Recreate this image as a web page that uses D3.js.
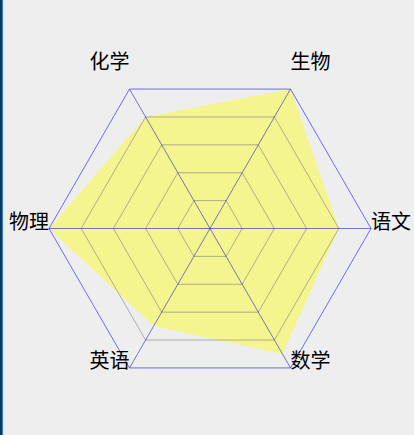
<!DOCTYPE html>
<html>
<head>
<meta charset="utf-8">
<script src="https://cdn.jsdelivr.net/npm/d3@7"></script>
<style>
  html, body { margin: 0; padding: 0; background: #eeeeee; }
  body { width: 414px; height: 435px; overflow: hidden; position: relative; }
  #edge { position: absolute; left: 0; top: 0; width: 2px; height: 435px; background: #12365a; border-right: 1px solid #2a7fd0; }
  svg { position: absolute; left: 0; top: 0; }
  text { font-family: "Noto Sans CJK SC", sans-serif; font-size: 20px; fill: #000; }
</style>
</head>
<body>
<div id="edge"></div>
<script>
// data
const subjects = ["语文", "数学", "英语", "物理", "化学", "生物"];
const scores = [80, 90, 70, 100, 80, 100];
const maxScore = 100;
const levelValues = [20, 40, 60, 80, 100];

const W = 414, H = 435;
const cx = 210, cy = 228.5, R = 161;

const svg = d3.select("body").append("svg").attr("width", W).attr("height", H);
const g = svg.append("g").attr("transform", `translate(${cx},${cy})`);

const rScale = d3.scaleLinear().domain([0, maxScore]).range([0, R]);
const angle = d3.scaleLinear().domain([0, subjects.length]).range([0, 2 * Math.PI]);
const pt = (i, v) => [rScale(v) * Math.cos(angle(i)), rScale(v) * Math.sin(angle(i))];

const line = d3.line();

// data area
g.append("path")
  .attr("d", line(scores.map((v, i) => pt(i, v))) + "Z")
  .attr("fill", "rgb(255,255,0)")
  .attr("fill-opacity", 0.4)
  .attr("stroke", "none");

// grid
g.selectAll("path.grid").data(levelValues).enter().append("path")
  .attr("class", "grid")
  .attr("d", lv => line(subjects.map((s, i) => pt(i, lv))) + "Z")
  .attr("fill", "none")
  .attr("stroke", lv => lv === maxScore ? "#0000ff" : "#6a6a80")
  .attr("stroke-opacity", lv => lv === maxScore ? 0.7 : 0.65)
  .attr("stroke-width", 0.8);

// axes
g.selectAll("line.axis").data(subjects).enter().append("line")
  .attr("class", "axis")
  .attr("x1", 0).attr("y1", 0)
  .attr("x2", (d, i) => pt(i, maxScore)[0])
  .attr("y2", (d, i) => pt(i, maxScore)[1])
  .attr("stroke", "#2020c0")
  .attr("stroke-opacity", 0.6)
  .attr("stroke-width", 1);

// labels
g.selectAll("text.label").data(subjects).enter().append("text")
  .attr("class", "label")
  .attr("x", (d, i) => pt(i, maxScore)[0])
  .attr("y", (d, i) => {
    const y = pt(i, maxScore)[1];
    return y < -1 ? y - 20 : y;
  })
  .attr("text-anchor", (d, i) => pt(i, maxScore)[0] > 1 ? "start" : "end")
  .text(d => d);
</script>
</body>
</html>
